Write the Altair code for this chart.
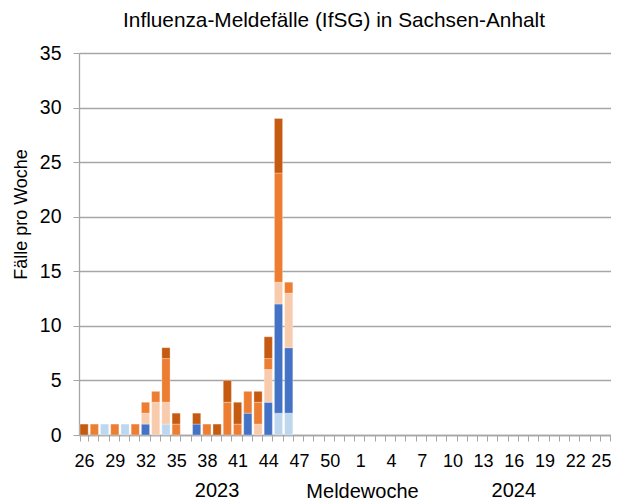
import altair as alt
import pandas as pd

# Meldewochen: 26..52 (2023) und 1..25 (2024)
weeks = [str(w) for w in list(range(26, 53)) + list(range(1, 26))]
shown_weeks = ["26", "29", "32", "35", "38", "41", "44", "47", "50",
               "1", "4", "7", "10", "13", "16", "19", "22", "25"]

series_names = ["A(H1N1)pdm09", "A(H3N2)", "A nicht subtypisiert", "Influenza B", "A/B nicht differenziert"]
series_colors = ["#bdd7ee", "#4472c4", "#f8cbad", "#ed7d31", "#c55a11"]

zeros_2024 = [0] * 25
s_lightblue = [0,0,1,0,1,0,0,0,1,0,0,0,0,0,0,0,0,0,0,2,2,0,0,0,0,0,0] + zeros_2024
s_blue      = [0,0,0,0,0,0,1,0,0,0,0,1,0,0,0,0,2,0,3,10,6,0,0,0,0,0,0] + zeros_2024
s_lightor   = [0,0,0,0,0,0,1,3,2,0,0,0,0,0,0,0,0,1,3,2,5,0,0,0,0,0,0] + zeros_2024
s_orange    = [0,1,0,1,0,1,1,1,4,1,0,0,1,0,3,1,2,2,1,10,1,0,0,0,0,0,0] + zeros_2024
s_darkor    = [1,0,0,0,0,0,0,0,1,1,0,1,0,1,2,2,0,1,2,5,0,0,0,0,0,0,0] + zeros_2024

year_labels = ["2023", "2024"]
year_weeks = ["39", "16"]

rows = []
for si, (name, vals) in enumerate(zip(series_names, [s_lightblue, s_blue, s_lightor, s_orange, s_darkor])):
    for w, v in zip(weeks, vals):
        rows.append({"Woche": w, "Serie": name, "order": si, "Faelle": v})
df = pd.DataFrame(rows)
df = df[df["Faelle"] > 0]

font = "Liberation Sans"
W, H = 532, 382
grey = "#a6a6a6"

label_expr = "indexof([" + ",".join("'" + s + "'" for s in shown_weeks) + "], datum.value) >= 0 ? datum.value : ''"

x_enc = alt.X("Woche:N", sort=weeks, scale=alt.Scale(domain=weeks, paddingInner=0.2, paddingOuter=0.1),
              axis=alt.Axis(title="Meldewoche", titleFont=font, titleFontSize=20, titleFontWeight="normal",
                            titleColor="#000000", titleX=283, titleY=56, titleBaseline="middle",
                            titleAlign="center",
                            labelExpr=label_expr, labelAngle=0, labelFont=font, labelFontSize=18,
                            labelColor="#000000", labelPadding=11, labelOverlap=False,
                            labelOffset=alt.ConditionalAxisNumber(
                                condition={"test": "datum.value == '25'", "value": -5}, value=0),
                            tickBand="extent", tickSize=6, tickColor=grey, domainColor=grey,
                            domainWidth=1.3, tickWidth=1, grid=False))

bars = alt.Chart(df).mark_bar(stroke="white", strokeWidth=0.5, strokeOpacity=0.6).encode(
    x=x_enc,
    y=alt.Y("sum(Faelle):Q", scale=alt.Scale(domain=[0, 35]),
            axis=alt.Axis(title="Fälle pro Woche", values=list(range(0, 36, 5)),
                          titleFont=font, titleFontSize=18, titleFontWeight="normal",
                          titleColor="#000000", titleX=-49, titleY=161, titleAlign="center",
                          labelFont=font, labelFontSize=19.5, labelColor="#000000", labelPadding=12,
                          tickSize=6, tickColor=grey, domainColor=grey, domainWidth=1.3,
                          gridColor=grey, gridWidth=1.3)),
    color=alt.Color("Serie:N", scale=alt.Scale(domain=series_names, range=series_colors), legend=None),
    order=alt.Order("order:Q", sort="ascending"),
)

years_df = pd.DataFrame({"Woche": year_weeks, "Jahr": year_labels})
years = alt.Chart(years_df).mark_text(font=font, fontSize=20, color="#000000", baseline="middle").encode(
    x=alt.X("Woche:N", sort=weeks, scale=alt.Scale(domain=weeks)),
    y=alt.value(H + 56),
    text="Jahr:N",
)

chart = alt.layer(bars, years).properties(
    width=W, height=H,
    title=alt.TitleParams("Influenza-Meldefälle (IfSG) in Sachsen-Anhalt", font=font, fontSize=20.8,
                          fontWeight="normal", color="#000000", anchor="middle", dx=-11, offset=11),
    autosize=alt.AutoSizeParams(type="none"),
    padding={"left": 71, "top": 45, "right": 0, "bottom": 66},
).configure_view(stroke=None).configure(background="white")

chart.save("out.html", embed_options={"renderer": "svg", "actions": False})
